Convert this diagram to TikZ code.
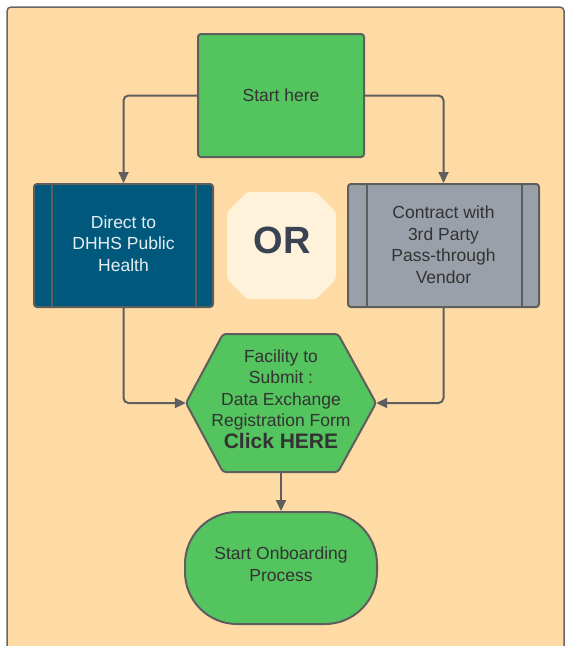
\documentclass[tikz,border=0pt]{standalone}
\usepackage{fontspec}
\setmainfont{Liberation Sans}
\usetikzlibrary{arrows.meta}
\definecolor{bgc}{HTML}{FEDBA5}
\definecolor{grn}{HTML}{54C45E}
\definecolor{blu}{HTML}{00597C}
\definecolor{gry}{HTML}{9AA0A9}
\definecolor{bordc}{HTML}{5E5E5E}
\definecolor{panelc}{HTML}{666666}
\definecolor{octc}{HTML}{FFF2DB}
\definecolor{ortxt}{HTML}{3A4352}
\definecolor{txt}{HTML}{333333}
\definecolor{wtxt}{HTML}{E6EEF3}
\begin{document}
\begin{tikzpicture}[x=1pt,y=-1pt,
  box/.style={draw=bordc, line width=2pt, rounded corners=3pt, inner sep=0pt,
    align=center, font=\fontsize{17.5}{21.5}\selectfont, text=txt},
  label/.style={inner sep=0pt, align=center, font=\fontsize{17.5}{21.5}\selectfont, text=txt},
  conn/.style={draw=bordc, line width=2pt, rounded corners=5pt,
    -{Triangle[length=11pt,width=10pt]}},
  sideline/.style={draw=bordc, line width=2pt}]
\clip (0,0) rectangle (566,646);
% panel
\draw[fill=bgc, draw=panelc, line width=1.5pt, rounded corners=4pt] (7,7) rectangle (564,700);
% start
\node[box, fill=grn, minimum width=166pt, minimum height=123pt] (start) at (281,95.5) {Start here};
% left process
\node[box, fill=blu, minimum width=179pt, minimum height=123pt] (left) at (123.5,245.5) {};
\draw[sideline] ([xshift=19pt]left.north west) -- ([xshift=19pt]left.south west);
\draw[sideline] ([xshift=-18pt]left.north east) -- ([xshift=-18pt]left.south east);
\node[label, text=wtxt] (lefttxt) at (123.5,243.5) {Direct to\\DHHS Public\\Health};
% right process
\node[box, fill=gry, minimum width=191pt, minimum height=123pt] (right) at (443.5,245.5) {};
\draw[sideline] ([xshift=20pt]right.north west) -- ([xshift=20pt]right.south west);
\draw[sideline] ([xshift=-18pt]right.north east) -- ([xshift=-18pt]right.south east);
\node[label] (righttxt) at (443.5,244.5) {Contract with\\3rd Party\\Pass-through\\Vendor};
% OR octagon
\fill[octc, rounded corners=3pt] (227,212) -- (247,192) -- (316,192) -- (336,212)
  -- (336,279) -- (316,299) -- (247,299) -- (227,279) -- cycle;
\node[inner sep=0pt, font=\bfseries\fontsize{38}{40}\selectfont, text=ortxt] (or) at (282,240.5) {OR};
% hexagon
\draw[fill=grn, draw=bordc, line width=2pt, rounded corners=3pt]
  (186,403) -- (223,334) -- (338,334) -- (376,403) -- (338,472) -- (223,472) -- cycle;
\node[inner sep=0pt, minimum width=190pt, minimum height=138pt] (hex) at (281,403) {};
\node[label] (hextxt) at (281,399) {Facility to\\Submit :\\Data Exchange\\Registration Form\\{\bfseries\fontsize{21}{21.5}\selectfont Click HERE}};
% terminal
\node[box, fill=grn, rounded corners=52pt, minimum width=192pt, minimum height=112pt] (term) at (281,568) {};
\node[label] (termtxt) at (281,564) {Start Onboarding\\Process};
% connectors
\draw[conn] (start.west) -| (left.north);
\draw[conn] (start.east) -| (right.north);
\draw[conn] (left.south) |- (hex.west);
\draw[conn] (right.south) |- (hex.east);
\draw[conn] (hex.south) -- (term.north);
\end{tikzpicture}
\end{document}
